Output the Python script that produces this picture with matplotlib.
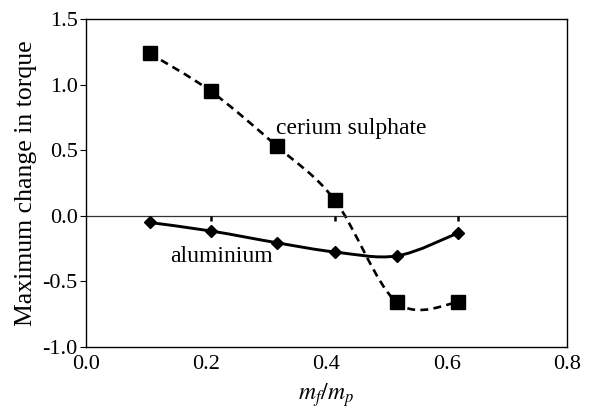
import numpy as np
import matplotlib
matplotlib.use('Agg')
import matplotlib.pyplot as plt
from matplotlib.path import Path
from matplotlib.patches import PathPatch

plt.rcParams['font.family'] = ['Liberation Serif', 'DejaVu Serif']
plt.rcParams['mathtext.fontset'] = 'stix'
plt.rcParams['axes.unicode_minus'] = False

# данні
mass_ratio = [0.106, 0.208, 0.318, 0.414, 0.517, 0.619]
cerium = [1.24, 0.95, 0.53, 0.12, -0.66, -0.66]
aluminium = [-0.05, -0.115, -0.205, -0.275, -0.305, -0.13]

x_ticks = [0.0, 0.2, 0.4, 0.6, 0.8]
y_ticks = [-1.0, -0.5, 0.0, 0.5, 1.0, 1.5]


def smooth_path(x, y):
    # згладжена лінія як в Excel (Catmull-Rom -> Bezier)
    p = np.column_stack([x, y])
    p = np.vstack([p[0], p, p[-1]])
    verts = [p[1]]
    codes = [Path.MOVETO]
    for i in range(1, len(p) - 2):
        c1 = p[i] + (p[i + 1] - p[i - 1]) / 6
        c2 = p[i + 1] - (p[i + 2] - p[i]) / 6
        verts += [c1, c2, p[i + 1]]
        codes += [Path.CURVE4] * 3
    return Path(verts, codes)


fig = plt.figure(figsize=(5.98, 4.11), dpi=100)
ax = fig.add_axes([0.1438, 0.1557, 0.8042, 0.7973])

# церій - пунктир
ax.add_patch(PathPatch(smooth_path(mass_ratio, cerium), fill=False,
                       lw=1.9, ls=(0, (3, 2)), color='black'))
ax.plot(mass_ratio, cerium, ls='none', marker='s', ms=9.5, color='black')

# алюміній - суцільна
ax.add_patch(PathPatch(smooth_path(mass_ratio, aluminium), fill=False,
                       lw=2.1, color='black'))
ax.plot(mass_ratio, aluminium, ls='none', marker='D', ms=6.5, color='black')

# лінія нуля
ax.axhline(0, color='#333333', lw=0.9, zorder=1)
ax.vlines(mass_ratio[1::2], -0.04, 0, color='black', lw=1.8)

ax.set_xlim(0, 0.8)
ax.set_ylim(-1.0, 1.5)
ax.set_xticks(x_ticks)
ax.set_xticklabels(['%.1f' % v for v in x_ticks])
ax.set_yticks(y_ticks)
ax.set_yticklabels(['%.1f' % v for v in y_ticks])
ax.tick_params(axis='x', length=0, labelsize=16, pad=6)
ax.tick_params(axis='y', direction='out', length=4, labelsize=16, pad=2)

for s in ax.spines.values():
    s.set_linewidth(1.0)

ax.set_ylabel('Maximum change in torque', fontsize=18.5, labelpad=4)
ax.set_xlabel('$m_f/m_p$', fontsize=17, labelpad=5)

ax.text(0.316, 0.67, 'cerium sulphate', fontsize=17, va='center')
ax.text(0.140, -0.31, 'aluminium', fontsize=17, va='center')

plt.savefig('out.png', dpi=100)
